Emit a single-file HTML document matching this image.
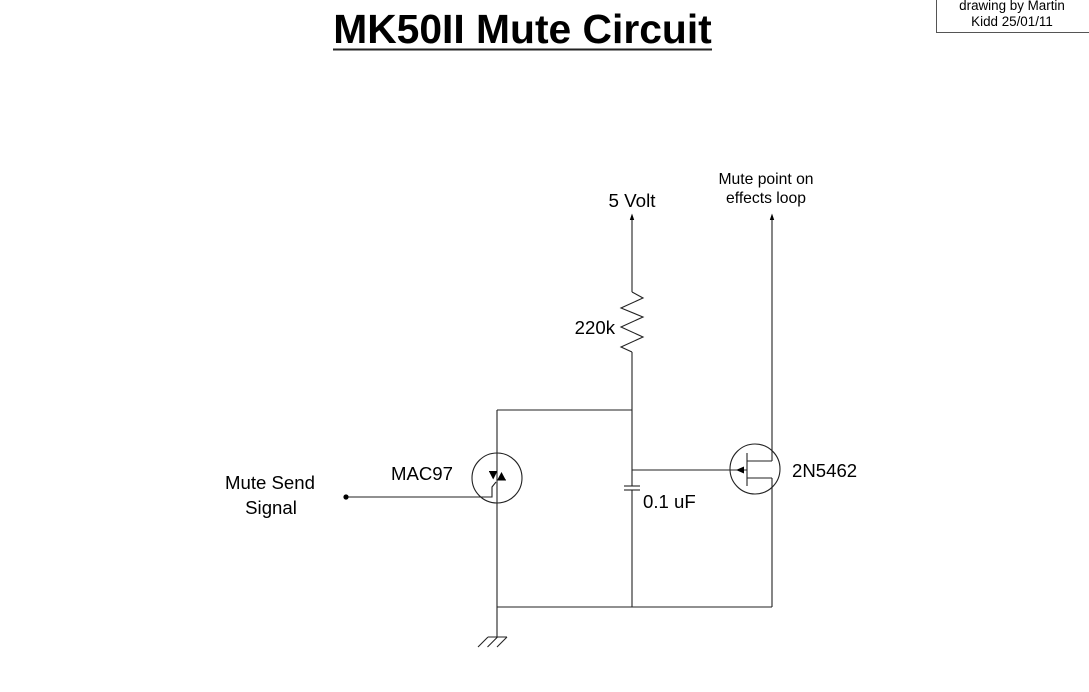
<!DOCTYPE html>
<html>
<head>
<meta charset="utf-8">
<style>
  html,body{margin:0;padding:0;background:#fff;}
  body{width:1089px;height:692px;overflow:hidden;position:relative;}
  svg{position:absolute;left:0;top:0;}
  text{font-family:"Liberation Sans",Arial,sans-serif;fill:#000;}
</style>
</head>
<body>
<svg width="1089" height="692" viewBox="0 0 1089 692" xmlns="http://www.w3.org/2000/svg">
  <!-- Title -->
  <text x="522.5" y="43" font-size="40.8" font-weight="bold" text-anchor="middle">MK50II Mute Circuit</text>
  <rect x="333" y="48.5" width="379" height="2" fill="#222"/>

  <!-- Top-right note box -->
  <rect x="936.5" y="-10" width="160" height="42.5" fill="none" stroke="#555" stroke-width="1"/>
  <text x="1012" y="10" font-size="13.4" text-anchor="middle">drawing by Martin</text>
  <text x="1012" y="26" font-size="13.4" text-anchor="middle">Kidd 25/01/11</text>

  <g stroke="#222" stroke-width="1.1" fill="none">
    <!-- 5V rail line + resistor -->
    <line x1="632" y1="219" x2="632" y2="292"/>
    <polyline points="632,292 643,298 621,308 643,317 621,327 643,337 621,347 632,352"/>
    <line x1="632" y1="352" x2="632" y2="486"/>
    <!-- capacitor -->
    <line x1="624" y1="486" x2="640" y2="486"/>
    <line x1="624" y1="490" x2="640" y2="490"/>
    <line x1="632" y1="490" x2="632" y2="607"/>

    <!-- top horizontal -->
    <line x1="497" y1="410" x2="632" y2="410"/>
    <!-- triac vertical -->
    <line x1="497" y1="410" x2="497" y2="637"/>
    <!-- bottom horizontal -->
    <line x1="497" y1="607" x2="772" y2="607"/>

    <!-- triac circle -->
    <circle cx="497" cy="478" r="25"/>
    <!-- gate -->
    <polyline points="346,497 492,497 492,487 496,482"/>

    <!-- ground -->
    <line x1="488" y1="637" x2="507" y2="637"/>
    <line x1="488" y1="637" x2="478" y2="647"/>
    <line x1="497.5" y1="637" x2="487.5" y2="647"/>
    <line x1="507" y1="637" x2="497" y2="647"/>

    <!-- FET gate line -->
    <line x1="632" y1="470" x2="747" y2="470"/>
    <!-- FET circle -->
    <circle cx="755" cy="469" r="25"/>
    <!-- channel bar -->
    <line x1="747" y1="453" x2="747" y2="486"/>
    <!-- drain/source -->
    <line x1="747" y1="461" x2="772" y2="461"/>
    <line x1="747" y1="478" x2="772" y2="478"/>
    <line x1="772" y1="219" x2="772" y2="461"/>
    <line x1="772" y1="478" x2="772" y2="607"/>
  </g>

  <!-- triac triangles -->
  <polygon points="489.3,472 497,472 493.2,479.5" fill="#000"/>
  <polygon points="497.5,479.5 505.5,479.5 501.5,472" fill="#000"/>
  <line x1="489" y1="471.5" x2="497" y2="471.5" stroke="#000" stroke-width="1"/>
  <line x1="497.5" y1="480" x2="506" y2="480" stroke="#000" stroke-width="1"/>

  <!-- FET arrow (pointing left) -->
  <polygon points="736,470 744,466.5 744,473.5" fill="#000"/>

  <!-- top arrows -->
  <polygon points="632,213.5 629.8,220 634.2,220" fill="#000"/>
  <polygon points="772,213.5 769.8,220 774.2,220" fill="#000"/>

  <!-- input dot -->
  <circle cx="346" cy="497" r="2.6" fill="#000"/>

  <!-- labels -->
  <text x="632" y="207" font-size="18.8" text-anchor="middle">5 Volt</text>
  <text x="766" y="184" font-size="15.7" text-anchor="middle">Mute point on</text>
  <text x="766" y="203" font-size="15.7" text-anchor="middle">effects loop</text>
  <text x="615" y="334" font-size="18.6" text-anchor="end">220k</text>
  <text x="422" y="480" font-size="18.6" text-anchor="middle">MAC97</text>
  <text x="792" y="477" font-size="18.6">2N5462</text>
  <text x="643" y="508" font-size="18.6">0.1 uF</text>
  <text x="270" y="489" font-size="18.6" text-anchor="middle">Mute Send</text>
  <text x="271" y="514" font-size="18.6" text-anchor="middle">Signal</text>
</svg>
</body>
</html>
